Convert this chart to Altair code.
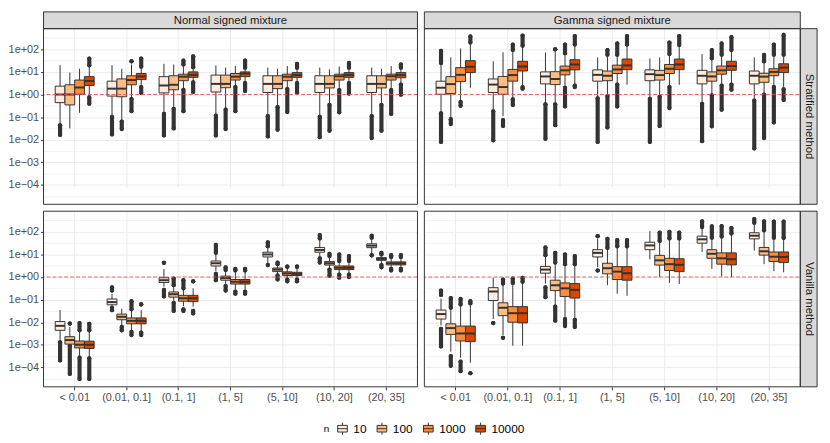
import altair as alt
import pandas as pd

CATEGORIES = ["< 0.01", "(0.01, 0.1]", "(0.1, 1]", "(1, 5]", "(5, 10]", "(10, 20]", "(20, 35]"]
N_LEVELS = ["10", "100", "1000", "10000"]
N_COLORS = ["#FEEDDE", "#FDBE85", "#FD8D3C", "#D94701"]
COLUMN_LABELS = ["Normal signed mixture", "Gamma signed mixture"]
ROW_LABELS = ["Stratified method", "Vanilla method"]
REF_LINE = [1.0]
Y_DOMAIN = [1.38e-05, 822.0]
Y_MAJOR = [1e-4, 1e-3, 1e-2, 1e-1, 1e0, 1e1, 1e2]
Y_MINOR = [3.162e-5, 3.162e-4, 3.162e-3, 3.162e-2, 0.3162, 3.162, 31.62, 316.2]

# Rows: (category index, n, log10 of: lower whisker, Q1, median, Q3, upper whisker,
#        low-outlier span (from, to), high-outlier span (from, to))
NORMAL_STRATIFIED = [
    (0, "10", -1.31, -0.36, 0.00, 0.37, 1.30, (-1.36, -1.79), None),
    (0, "100", -1.50, -0.46, 0.00, 0.43, 0.97, None, None),
    (0, "1000", -0.81, 0.01, 0.31, 0.64, 1.14, None, None),
    (0, "10000", -0.10, 0.40, 0.60, 0.79, 1.26, (-0.13, -0.41), (1.29, 1.59)),
    (1, "10", -0.96, -0.07, 0.26, 0.59, 1.30, (-0.99, -1.77), None),
    (1, "100", -1.17, -0.10, 0.26, 0.69, 1.14, (-1.20, -1.53), None),
    (1, "1000", -0.17, 0.43, 0.64, 0.83, 1.33, (-0.20, -0.74), (1.47, 1.47)),
    (1, "10000", 0.40, 0.66, 0.80, 0.93, 1.19, (0.33, 0.07), (1.23, 1.59)),
    (2, "10", -0.81, 0.07, 0.40, 0.79, 1.36, (-0.86, -1.81), None),
    (2, "100", -0.60, 0.21, 0.43, 0.83, 1.33, (-0.63, -1.50), None),
    (2, "1000", 0.26, 0.61, 0.79, 0.90, 1.26, (0.21, -0.74), (1.33, 1.50)),
    (2, "10000", 0.61, 0.76, 0.87, 1.00, 1.19, (0.54, 0.11), (1.21, 1.69)),
    (3, "10", -0.89, 0.11, 0.47, 0.86, 1.29, (-0.93, -1.81), None),
    (3, "100", -0.64, 0.30, 0.47, 0.86, 1.19, (-0.67, -1.53), None),
    (3, "1000", 0.36, 0.64, 0.79, 0.93, 1.26, (0.33, -0.74), None),
    (3, "10000", 0.54, 0.79, 0.93, 1.00, 1.16, (0.51, 0.16), (1.19, 1.50)),
    (4, "10", -0.96, 0.09, 0.47, 0.83, 1.19, (-0.96, -1.86), None),
    (4, "100", -0.53, 0.26, 0.47, 0.83, 1.14, (-0.56, -1.56), None),
    (4, "1000", 0.27, 0.61, 0.79, 0.90, 1.26, (0.24, -0.77), None),
    (4, "10000", 0.54, 0.76, 0.86, 0.97, 1.16, (0.51, 0.09), (1.19, 1.36)),
    (5, "10", -0.96, 0.09, 0.47, 0.83, 1.19, (-0.99, -1.89), None),
    (5, "100", -0.43, 0.29, 0.47, 0.83, 1.11, (-0.46, -1.60), None),
    (5, "1000", 0.24, 0.64, 0.81, 0.90, 1.24, (0.20, -0.79), None),
    (5, "10000", 0.54, 0.76, 0.87, 0.97, 1.16, (0.51, 0.04), (1.19, 1.40)),
    (6, "10", -0.93, 0.09, 0.47, 0.83, 1.19, (-0.96, -1.93), None),
    (6, "100", -0.43, 0.29, 0.47, 0.83, 1.14, (-0.46, -1.60), None),
    (6, "1000", 0.24, 0.64, 0.81, 0.90, 1.26, (0.20, -0.86), None),
    (6, "10000", 0.47, 0.74, 0.86, 0.97, 1.16, (0.44, -0.01), (1.19, 1.33)),
]

GAMMA_STRATIFIED = [
    (0, "10", -0.79, 0.01, 0.30, 0.59, 1.33, (-0.83, -2.10), (1.39, 1.93)),
    (0, "100", -1.03, 0.04, 0.46, 0.79, 1.64, (-1.09, -1.31), None),
    (0, "1000", -0.29, 0.57, 0.87, 1.19, 2.04, (-0.33, -0.50), None),
    (0, "10000", 0.30, 0.97, 1.23, 1.50, 2.23, None, (2.30, 2.57)),
    (1, "10", -0.70, 0.09, 0.44, 0.69, 1.47, (-0.74, -2.03), None),
    (1, "100", -0.96, 0.01, 0.33, 0.80, 1.87, (-1.13, -1.39), None),
    (1, "1000", -0.17, 0.59, 0.86, 1.11, 1.93, (-0.21, -0.46), (1.97, 2.21)),
    (1, "10000", 0.40, 1.04, 1.24, 1.47, 2.11, (0.33, 0.26), (2.16, 2.61)),
    (2, "10", -0.39, 0.47, 0.80, 1.00, 1.86, (-0.43, -1.96), None),
    (2, "100", -0.39, 0.44, 0.69, 1.01, 1.90, (-0.43, -1.36), (2.00, 2.00)),
    (2, "1000", 0.33, 0.87, 1.07, 1.26, 1.79, (0.30, -0.53), (1.83, 2.21)),
    (2, "10000", 0.47, 1.09, 1.33, 1.54, 2.19, (0.40, 0.33), (2.21, 2.59)),
    (3, "10", -0.14, 0.59, 0.87, 1.09, 1.64, (-0.17, -2.10), None),
    (3, "100", -0.03, 0.61, 0.83, 1.04, 1.73, (-0.07, -1.46), (1.76, 1.97)),
    (3, "1000", 0.47, 0.93, 1.11, 1.30, 1.73, (0.44, -0.53), (1.76, 2.26)),
    (3, "10000", 0.44, 1.10, 1.29, 1.57, 2.19, None, (2.21, 2.59)),
    (4, "10", -0.16, 0.61, 0.90, 1.09, 1.59, (-0.19, -2.10), None),
    (4, "100", -0.04, 0.64, 0.86, 1.07, 1.64, (-0.10, -1.39), None),
    (4, "1000", 0.40, 0.93, 1.14, 1.33, 1.73, (0.33, -0.60), (1.79, 2.30)),
    (4, "10000", 0.43, 1.10, 1.33, 1.57, 2.16, None, (2.19, 2.59)),
    (5, "10", -0.39, 0.47, 0.83, 1.07, 1.79, (-0.41, -2.07), None),
    (5, "100", 0.00, 0.59, 0.80, 1.00, 1.59, (-0.04, -1.41), (1.61, 1.97)),
    (5, "1000", 0.47, 0.90, 1.07, 1.26, 1.73, (0.40, -0.67), (1.76, 2.26)),
    (5, "10000", 0.47, 1.07, 1.26, 1.47, 1.93, (0.44, 0.21), (1.97, 2.54)),
    (6, "10", -0.24, 0.47, 0.83, 1.04, 1.64, (-0.27, -2.39), None),
    (6, "100", 0.04, 0.54, 0.79, 0.94, 1.44, (0.00, -1.93), (1.47, 1.76)),
    (6, "1000", 0.40, 0.83, 1.00, 1.14, 1.73, (0.33, -1.24), (1.76, 2.21)),
    (6, "10000", 0.26, 0.97, 1.19, 1.36, 1.73, (0.23, -0.24), (1.76, 2.64)),
]

NORMAL_VANILLA = [
    (0, "10", -2.86, -2.36, -2.16, -1.97, -1.46, (-2.89, -3.69), None),
    (0, "100", -3.00, -2.97, -2.79, -2.64, -2.21, (-3.04, -4.29), (-2.06, -2.06)),
    (0, "1000", -3.54, -3.14, -3.00, -2.83, -2.40, (-3.57, -4.51), (-2.36, -2.04)),
    (0, "10000", -3.54, -3.16, -3.00, -2.84, -2.40, (-3.60, -4.51), (-2.36, -2.07)),
    (1, "10", -1.33, -1.23, -1.11, -0.97, -0.74, (-1.36, -1.47), (-0.60, -0.46)),
    (1, "100", -2.14, -1.89, -1.76, -1.64, -1.40, (-2.21, -2.36), None),
    (1, "1000", -2.36, -2.07, -1.94, -1.81, -1.47, (-2.43, -2.57), (-1.43, -1.07)),
    (1, "10000", -2.39, -2.07, -1.94, -1.81, -1.47, (-2.46, -2.57), (-1.21, -1.21)),
    (2, "10", -0.43, -0.24, -0.14, -0.03, 0.36, (-0.57, -0.86), (0.63, 0.63)),
    (2, "100", -1.04, -0.89, -0.76, -0.66, -0.40, (-1.14, -1.50), (-0.36, -0.07)),
    (2, "1000", -1.29, -1.07, -0.94, -0.81, -0.54, (-1.43, -1.50), (-0.50, -0.14)),
    (2, "10000", -1.31, -1.09, -0.94, -0.81, -0.50, (-1.50, -1.61), (-0.19, -0.19)),
    (3, "10", 0.26, 0.49, 0.61, 0.71, 1.00, (0.14, -0.14), (1.07, 1.43)),
    (3, "100", -0.36, -0.14, -0.04, 0.04, 0.26, (-0.40, -0.60), (0.31, 0.43)),
    (3, "1000", -0.54, -0.31, -0.21, -0.11, 0.24, (-0.64, -0.74), (0.29, 0.36)),
    (3, "10000", -0.54, -0.31, -0.21, -0.11, 0.24, (-0.64, -0.74), (0.29, 0.36)),
    (4, "10", 0.60, 0.89, 1.00, 1.10, 1.29, (0.53, 0.53), (1.36, 1.54)),
    (4, "100", 0.11, 0.24, 0.33, 0.40, 0.54, (0.07, -0.11), (0.57, 0.64)),
    (4, "1000", -0.07, 0.07, 0.16, 0.23, 0.40, (-0.11, -0.19), (0.46, 0.46)),
    (4, "10000", -0.07, 0.07, 0.14, 0.21, 0.40, (-0.11, -0.19), (0.46, 0.46)),
    (5, "10", 0.86, 1.10, 1.20, 1.31, 1.64, (0.83, 0.64), (1.71, 1.86)),
    (5, "100", 0.36, 0.53, 0.61, 0.69, 0.89, (0.33, 0.06), (0.93, 1.03)),
    (5, "1000", 0.14, 0.33, 0.41, 0.49, 0.67, (0.11, -0.03), (0.71, 1.00)),
    (5, "10000", 0.14, 0.33, 0.41, 0.49, 0.67, (0.11, 0.00), (0.71, 0.93)),
    (6, "10", 1.00, 1.30, 1.39, 1.47, 1.71, (0.96, 0.96), (1.74, 1.83)),
    (6, "100", 0.57, 0.74, 0.80, 0.86, 0.96, (0.53, 0.43), (1.00, 1.07)),
    (6, "1000", 0.39, 0.54, 0.61, 0.67, 0.86, (0.36, 0.29), (0.89, 0.97)),
    (6, "10000", 0.39, 0.54, 0.61, 0.67, 0.86, (0.36, 0.29), (0.89, 0.97)),
]

GAMMA_VANILLA = [
    (0, "10", -2.14, -1.86, -1.64, -1.46, -0.96, (-2.29, -3.07), (-0.79, -0.60)),
    (0, "100", -3.30, -2.54, -2.26, -2.07, -1.40, (-3.50, -3.93), (-1.36, -0.93)),
    (0, "1000", -3.57, -2.83, -2.50, -2.17, -1.26, (-3.74, -4.17), (-1.21, -0.97)),
    (0, "10000", -3.79, -2.86, -2.50, -2.17, -1.26, (-4.26, -4.26), (-1.17, -1.07)),
    (1, "10", -1.86, -1.04, -0.64, -0.47, -0.03, (-2.04, -2.04), None),
    (1, "100", -2.57, -1.71, -1.36, -1.14, -0.33, (-2.69, -2.69), (-0.29, -0.11)),
    (1, "1000", -3.04, -2.00, -1.60, -1.31, -0.29, None, (-0.26, -0.07)),
    (1, "10000", -3.04, -2.03, -1.60, -1.31, -0.26, None, (-0.21, -0.04)),
    (2, "10", -0.29, 0.17, 0.33, 0.47, 0.93, (-0.46, -0.89), (0.97, 1.31)),
    (2, "100", -1.26, -0.60, -0.36, -0.14, 0.57, (-1.31, -1.93), (0.64, 1.07)),
    (2, "1000", -1.79, -0.86, -0.50, -0.26, 0.53, (-1.86, -2.17), (0.57, 1.00)),
    (2, "10000", -1.83, -0.93, -0.57, -0.29, 0.53, (-1.89, -2.21), (0.57, 0.93)),
    (3, "10", 0.43, 0.89, 1.07, 1.21, 1.69, (0.29, 0.29), (1.81, 1.81)),
    (3, "100", -0.36, 0.14, 0.39, 0.61, 1.26, None, (1.29, 1.69)),
    (3, "1000", -0.74, -0.11, 0.24, 0.46, 1.31, None, (1.36, 1.64)),
    (3, "10000", -0.83, -0.14, 0.17, 0.46, 1.31, None, (1.36, 1.64)),
    (4, "10", 0.79, 1.21, 1.40, 1.54, 2.03, None, None),
    (4, "100", 0.00, 0.53, 0.74, 0.96, 1.57, None, (1.60, 1.97)),
    (4, "1000", -0.26, 0.29, 0.57, 0.83, 1.67, None, (1.71, 2.00)),
    (4, "10000", -0.31, 0.24, 0.54, 0.81, 1.67, None, (1.71, 1.97)),
    (5, "10", 1.11, 1.50, 1.67, 1.81, 2.17, None, (2.21, 2.47)),
    (5, "100", 0.36, 0.83, 1.03, 1.21, 1.71, None, (1.74, 2.24)),
    (5, "1000", 0.03, 0.57, 0.83, 1.07, 1.74, None, (1.79, 2.26)),
    (5, "10000", 0.00, 0.54, 0.79, 1.07, 1.89, None, (1.93, 2.17)),
    (6, "10", 1.17, 1.69, 1.83, 1.96, 2.36, None, (2.40, 2.57)),
    (6, "100", 0.57, 0.97, 1.14, 1.31, 2.03, None, (2.07, 2.47)),
    (6, "1000", 0.26, 0.69, 0.90, 1.11, 1.71, None, (1.74, 2.46)),
    (6, "10000", 0.21, 0.64, 0.89, 1.11, 1.69, None, (1.73, 2.46)),
]

PANEL_DATA = [[NORMAL_STRATIFIED, GAMMA_STRATIFIED], [NORMAL_VANILLA, GAMMA_VANILLA]]

# layout (pixels)
PANEL_W = [379, 381]
PANEL_H = 178
STRIP_T = 17
STRIP_R = 17
INK = "#333333"

MAJOR_TEST = "abs(log(datum.value)/LN10 - round(log(datum.value)/LN10)) < 0.01"
Y_LABEL_EXPR = (MAJOR_TEST + " ? '1e' + (datum.value < 1 ? '\u2212' : '+') + '0' + "
                "abs(round(log(datum.value)/LN10)) : ''")


def box_frame(rows):
    recs = []
    for c, n, lo, q1, md, q3, hi, _, _ in rows:
        recs.append(dict(cat=CATEGORIES[c], n=n, lo=10 ** lo, q1=10 ** q1,
                         med=10 ** md, q3=10 ** q3, hi=10 ** hi))
    return pd.DataFrame(recs)


def outlier_frames(rows):
    spans, dots = [], []
    for c, n, *_, olo, ohi in rows:
        for span in (olo, ohi):
            if span is None:
                continue
            a, b = span
            spans.append(dict(cat=CATEGORIES[c], n=n, ya=10 ** a, yb=10 ** b))
            dots.append(dict(cat=CATEGORIES[c], n=n, y=10 ** a))
            dots.append(dict(cat=CATEGORIES[c], n=n, y=10 ** b))
    return pd.DataFrame(spans), pd.DataFrame(dots)


def panel(ri, ci):
    rows = PANEL_DATA[ri][ci]
    pw = PANEL_W[ci]
    top = ri == 0
    right = ci == 1
    y0 = STRIP_T if top else 0
    H = y0 + PANEL_H
    W = pw + (STRIP_R if right else 0)

    if ri == 1:
        x_axis = alt.Axis(title=None, labelAngle=0, labelColor="#4D4D4D", labelFontSize=11,
                          tickColor=INK, tickSize=3, labelPadding=2, domain=False,
                          grid=True, gridColor="#EBEBEB", gridWidth=1, bandPosition=0.5)
    else:
        x_axis = alt.Axis(title=None, labels=False, ticks=False, domain=False, grid=True,
                          gridColor="#EBEBEB", gridWidth=1, bandPosition=0.5,
                          minExtent=0, maxExtent=0)
    if ci == 0:
        y_axis = alt.Axis(title=None, values=Y_MAJOR + Y_MINOR, labelExpr=Y_LABEL_EXPR,
                          labelColor="#4D4D4D", labelFontSize=11, tickColor=INK, tickSize=3,
                          labelPadding=2, domain=False, grid=True, gridColor="#EBEBEB",
                          tickOpacity={"condition": {"test": MAJOR_TEST, "value": 1}, "value": 0},
                          gridWidth={"condition": {"test": MAJOR_TEST, "value": 1}, "value": 0.6})
    else:
        y_axis = alt.Axis(title=None, values=Y_MAJOR + Y_MINOR, labels=False, ticks=False,
                          domain=False, grid=True, gridColor="#EBEBEB", minExtent=0, maxExtent=0,
                          gridWidth={"condition": {"test": MAJOR_TEST, "value": 1}, "value": 0.6})

    X = alt.X("cat:N", sort=CATEGORIES, axis=x_axis,
              scale=alt.Scale(domain=CATEGORIES, range=[0, pw], paddingInner=0, paddingOuter=0.1))
    XO = alt.XOffset("n:N", sort=N_LEVELS,
                     scale=alt.Scale(domain=N_LEVELS, paddingInner=0, paddingOuter=0.667))
    yscale = alt.Scale(type="log", domain=Y_DOMAIN, range=[H, y0], nice=False, zero=False)

    def Y(f):
        return alt.Y(f"{f}:Q", scale=yscale, axis=y_axis, title=None)

    bdf = box_frame(rows)
    sdf, ddf = outlier_frames(rows)

    whisk = alt.Chart(bdf).mark_rule(color=INK, strokeWidth=1).encode(
        x=X, xOffset=XO, y=Y("lo"), y2="hi")
    spans = alt.Chart(sdf).mark_rule(color=INK, strokeWidth=4.2, strokeCap="round").encode(
        x=X, xOffset=XO, y=Y("ya"), y2="yb")
    dots = alt.Chart(ddf).mark_circle(color=INK, size=18, opacity=1).encode(
        x=X, xOffset=XO, y=Y("y"))
    boxes = alt.Chart(bdf).mark_bar(stroke=INK, strokeWidth=1).encode(
        x=X, xOffset=XO, y=Y("q1"), y2="q3",
        fill=alt.Fill("n:N", sort=N_LEVELS,
                      scale=alt.Scale(domain=N_LEVELS, range=N_COLORS),
                      legend=alt.Legend(title="n", orient="none", legendX=284, legendY=415,
                                        direction="horizontal", titleOrient="left",
                                        symbolType="M-0.8,-0.55H0.8V0.55H-0.8Z M-0.8,0H0.8 M0,-0.55V-1 M0,0.55V1",
                                        symbolSize=150, symbolStrokeColor=INK, symbolStrokeWidth=1,
                                        labelFontSize=12, labelColor="#000000", titleFontSize=10,
                                        titleFontWeight="normal", titleColor="#000000",
                                        columnPadding=8, labelOffset=4, titlePadding=6)))
    meds = alt.Chart(bdf).mark_tick(color=INK, thickness=2, size=9.9, orient="horizontal",
                                    opacity=1).encode(x=X, xOffset=XO, y=Y("med"))
    hline = alt.Chart(pd.DataFrame({"v": REF_LINE})).mark_rule(
        color="#D9534F", strokeDash=[4, 2], strokeWidth=1.1, opacity=0.85).encode(y=Y("v"))
    one = pd.DataFrame({"label": [COLUMN_LABELS[ci]]})
    border = alt.Chart(one).mark_rect(fillOpacity=0, stroke=INK, strokeWidth=1).encode(
        x=alt.value(0), x2=alt.value(pw), y=alt.value(y0), y2=alt.value(H))

    layers = [whisk, spans, dots, boxes, meds, hline]
    if right:
        rdf = pd.DataFrame({"label": [ROW_LABELS[ri]]})
        layers.append(alt.Chart(rdf).mark_rect(fill="#D9D9D9", stroke=INK, strokeWidth=1).encode(
            x=alt.value(pw), x2=alt.value(W), y=alt.value(y0), y2=alt.value(H)))
        layers.append(alt.Chart(rdf).mark_text(angle=90, fontSize=11.5, color="#1A1A1A",
                                               baseline="middle", align="center").encode(
            x=alt.value(pw + STRIP_R / 2), y=alt.value((y0 + H) / 2), text="label:N"))
    if top:
        layers.append(alt.Chart(one).mark_rect(fill="#D9D9D9", stroke=INK, strokeWidth=1).encode(
            x=alt.value(0), x2=alt.value(pw), y=alt.value(0), y2=alt.value(STRIP_T)))
        layers.append(alt.Chart(one).mark_text(fontSize=11.5, color="#1A1A1A",
                                               baseline="middle", align="center").encode(
            x=alt.value(pw / 2), y=alt.value(STRIP_T / 2 + 0.5), text="label:N"))
    layers.append(border)
    return alt.layer(*layers).properties(width=W, height=H)


row_top = alt.hconcat(panel(0, 0), panel(0, 1), spacing=5).resolve_scale(
    x="independent", y="independent", xOffset="independent")
row_bot = alt.hconcat(panel(1, 0), panel(1, 1), spacing=5).resolve_scale(
    x="independent", y="independent", xOffset="independent")
chart = alt.vconcat(row_top, row_bot, spacing=5).resolve_scale(
    x="independent", y="independent", xOffset="independent"
).properties(
    padding={"left": 0, "top": 0, "right": 4, "bottom": 4}
).configure(font="Liberation Sans").configure_view(strokeWidth=0)

chart.save("out.html", embed_options={"renderer": "svg", "actions": False})
